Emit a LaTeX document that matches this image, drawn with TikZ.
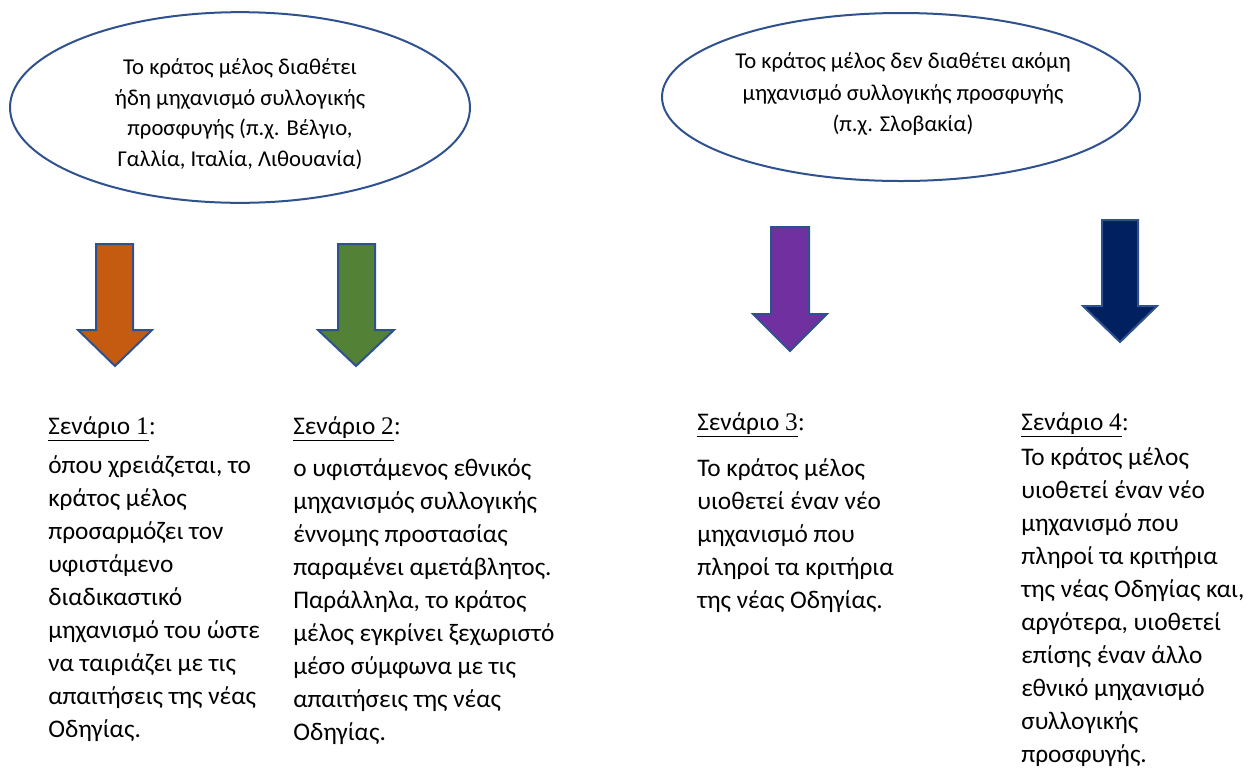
\documentclass[tikz,border=0pt]{standalone}
\usepackage{fontspec}
\setmainfont{Carlito}
\newfontfamily\sernum{Liberation Serif}
\usetikzlibrary{shapes.geometric}
\definecolor{outl}{HTML}{2F528F}
\definecolor{aorange}{HTML}{C55A11}
\definecolor{agreen}{HTML}{538135}
\definecolor{apurple}{HTML}{7030A0}
\definecolor{anavy}{HTML}{002060}
\tikzset{
  bubble/.style={draw=outl, line width=1.5pt, ellipse, inner sep=0pt},
  bubtext/.style={align=center, font=\fontsize{17}{22.8}\selectfont, inner sep=0pt},
  bigarrow/.style={draw=outl, line width=1.5pt, line join=miter},
  head/.style={anchor=base west, inner sep=0pt, font=\fontsize{19}{24.75}\selectfont},
  body/.style={anchor=base west, align=left, inner sep=0pt, font=\fontsize{19}{24.75}\selectfont},
}
\newcommand{\scen}[1]{\underline{\hbox{Σενάριο {\sernum #1}}}{\sernum :}}
\begin{document}
\begin{tikzpicture}[x=0.75pt,y=-0.75pt]
\useasboundingbox (0,0) rectangle (1259,769);
\fill[white] (0,0) rectangle (1259,769);
% ellipses
\node[bubble, minimum width=345pt, minimum height=143pt] (e1) at (240,107.5) {};
\node[bubtext] (t1) at (240,114) {Το κράτος μέλος διαθέτει\\ήδη μηχανισμό συλλογικής\\προσφυγής (π.χ. Βέλγιο,\\Γαλλία, Ιταλία, Λιθουανία)};
\node[bubble, minimum width=358.5pt, minimum height=126pt] (e2) at (901,97) {};
\node[bubtext, font=\fontsize{17}{23.5}\selectfont] (t2) at (903,94) {Το κράτος μέλος δεν διαθέτει ακόμη\\μηχανισμό συλλογικής προσφυγής\\(π.χ. Σλοβακία)};
% arrows
\filldraw[bigarrow, fill=aorange] (96,244) -- (133,244) -- (133,330) -- (152,330) -- (115,366) -- (78,330) -- (96,330) -- cycle;
\filldraw[bigarrow, fill=agreen] (338,244) -- (375,244) -- (375,330) -- (394,330) -- (356,366) -- (318,330) -- (338,330) -- cycle;
\filldraw[bigarrow, fill=apurple] (771,227) -- (809,227) -- (809,314) -- (827,314) -- (790,351) -- (753,314) -- (771,314) -- cycle;
\filldraw[bigarrow, fill=anavy] (1102,220) -- (1138,220) -- (1138,306) -- (1157,306) -- (1120,342) -- (1083,306) -- (1102,306) -- cycle;
% scenario headings
\node[head] (h1) at (48,434) {\scen{1}};
\node[head] (h2) at (293,434) {\scen{2}};
\node[head] (h3) at (697,430) {\scen{3}};
\node[head] (h4) at (1021,430) {\scen{4}};
% bodies (base anchor = baseline of last line)
\node[body] (b1) at (48,737) {όπου χρειάζεται, το\\κράτος μέλος\\προσαρμόζει τον\\υφιστάμενο\\διαδικαστικό\\μηχανισμό του ώστε\\να ταιριάζει με τις\\απαιτήσεις της νέας\\Οδηγίας.};
\node[body] (b2) at (293,740) {ο υφιστάμενος εθνικός\\μηχανισμός συλλογικής\\έννομης προστασίας\\παραμένει αμετάβλητος.\\Παράλληλα, το κράτος\\μέλος εγκρίνει ξεχωριστό\\μέσο σύμφωνα με τις\\απαιτήσεις της νέας\\Οδηγίας.};
\node[body] (b3) at (697,608) {Το κράτος μέλος\\υιοθετεί έναν νέο\\μηχανισμό που\\πληροί τα κριτήρια\\της νέας Οδηγίας.};
\node[body] (b4) at (1021,762) {Το κράτος μέλος\\υιοθετεί έναν νέο\\μηχανισμό που\\πληροί τα κριτήρια\\της νέας Οδηγίας και,\\αργότερα, υιοθετεί\\επίσης έναν άλλο\\εθνικό μηχανισμό\\συλλογικής\\προσφυγής.};
\end{tikzpicture}
\end{document}
